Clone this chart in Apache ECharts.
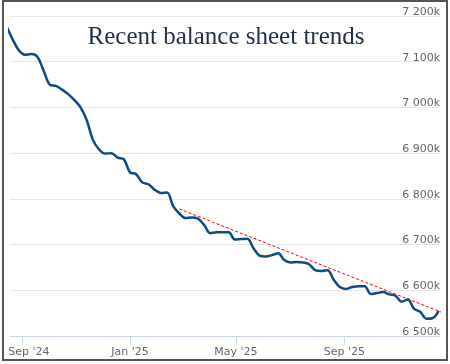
<!DOCTYPE html>
<html>
<head>
<meta charset="utf-8">
<script src="https://cdn.jsdelivr.net/npm/echarts@6/dist/echarts.min.js"></script>
<style>
html,body{margin:0;padding:0;background:#fff;}
#c{width:450px;height:364px;}
</style>
</head>
<body>
<div id="c"></div>
<script>
// Weekly dates (Wednesdays)
var dates = [
'2024-08-14','2024-08-21','2024-08-28','2024-09-04','2024-09-11','2024-09-18','2024-09-25',
'2024-10-02','2024-10-09','2024-10-16','2024-10-23','2024-10-30','2024-11-06','2024-11-13',
'2024-11-20','2024-11-27','2024-12-04','2024-12-11','2024-12-18','2024-12-25','2025-01-01',
'2025-01-08','2025-01-15','2025-01-22','2025-01-29','2025-02-05','2025-02-12','2025-02-19',
'2025-02-26','2025-03-05','2025-03-12','2025-03-19','2025-03-26','2025-04-02','2025-04-09',
'2025-04-16','2025-04-23','2025-04-30','2025-05-07','2025-05-14','2025-05-21','2025-05-28',
'2025-06-04','2025-06-11','2025-06-18','2025-06-25','2025-07-02','2025-07-09','2025-07-16',
'2025-07-23','2025-07-30','2025-08-06','2025-08-13','2025-08-20','2025-08-27','2025-09-03',
'2025-09-10','2025-09-17','2025-09-24','2025-10-01','2025-10-08','2025-10-15','2025-10-22',
'2025-10-29','2025-11-05','2025-11-12','2025-11-19','2025-11-26','2025-12-03','2025-12-10',
'2025-12-17'
];
// Balance sheet total (in k units shown on axis)
var balance = [
7178,7149,7125,7115,7117,7111,7081,
7050,7047,7039,7029,7016,7000,6972,
6929,6908,6899,6900,6890,6887,6858,
6854,6836,6832,6820,6813,6814,6784,
6768,6758,6759,6757,6743,6725,6727,
6727,6727,6711,6712,6713,6692,6676,
6674,6677,6681,6666,6661,6662,6661,
6657,6644,6642,6644,6623,6607,6603,
6607,6609,6609,6592,6594,6596,6591,
6588,6575,6580,6560,6553,6538,6539,
6555
];
// Trend line
var trendDates = ['2025-02-26','2025-12-28'];
var trendValues = [6778, 6546];
// Axis
var xTickDates = ['2024-09-01','2025-01-01','2025-05-01','2025-09-01'];
var yTicks = [6500,6600,6700,6800,6900,7000,7100,7200];
var xMin = '2024-08-18T00:00:00Z';
var xMax = '2025-12-18T12:00:00Z';

var months = ['Jan','Feb','Mar','Apr','May','Jun','Jul','Aug','Sep','Oct','Nov','Dec'];
function ts(s){ return Date.parse(s.length === 10 ? s + 'T00:00:00Z' : s); }
function fmtDate(v){
  var d = new Date(v);
  return months[d.getUTCMonth()] + " '" + String(d.getUTCFullYear()).slice(2);
}
function fmtVal(v){
  var t = Math.floor(v/1000), r = v % 1000;
  return t + ' ' + String(r).padStart(3,'0') + 'k';
}

var mainData = dates.map(function(d,i){ return [ts(d), balance[i]]; });
var trendData = trendDates.map(function(d,i){ return [ts(d), trendValues[i]]; });
var tickTs = xTickDates.map(ts);

var chart = echarts.init(document.getElementById('c'), null, {renderer:'canvas'});
chart.setOption({
  animation: false,
  backgroundColor: '#ffffff',
  grid: {left: 10, right: 10, top: 16, bottom: 28, containLabel: false},
  xAxis: {
    type: 'value',
    min: ts(xMin),
    max: ts(xMax),
    axisLine: {show: true, lineStyle: {color: '#ccd6eb', width: 1}},
    axisTick: {show: true, length: 9, lineStyle: {color: '#ccd6eb'}, customValues: tickTs},
    axisLabel: {
      customValues: tickTs,
      formatter: function(v){
        var s = fmtDate(v);
        return v === tickTs[0] ? '{first|' + s + '}' : s;
      },
      rich: {
        first: {padding: [0,0,0,13], color: '#666666', fontFamily: 'DejaVu Sans', fontSize: 11}
      },
      color: '#666666', fontFamily: 'DejaVu Sans', fontSize: 11, margin: 11
    },
    splitLine: {show: false}
  },
  yAxis: {
    type: 'value',
    position: 'right',
    min: yTicks[0],
    max: yTicks[yTicks.length-1],
    interval: 100,
    axisLine: {show: false},
    axisTick: {show: false},
    axisLabel: {
      inside: true, margin: 0,
      verticalAlign: 'bottom', lineHeight: 8,
      formatter: function(v){ return fmtVal(v); },
      color: '#666666', fontFamily: 'DejaVu Sans', fontSize: 11
    },
    splitLine: {show: true, lineStyle: {color: '#e6e6e6', width: 1}}
  },
  series: [
    {
      type: 'line',
      data: mainData,
      smooth: 0.35,
      showSymbol: false,
      symbol: 'none',
      clip: true,
      lineStyle: {color: '#0d4b83', width: 2.5},
      z: 3
    },
    {
      type: 'line',
      data: trendData,
      showSymbol: false,
      symbol: 'none',
      clip: false,
      lineStyle: {color: '#ff0000', width: 1, type: [3,2]},
      z: 4
    }
  ],
  graphic: [
    {
      type: 'text',
      style: {
        text: 'Recent balance sheet trends',
        x: 226, y: 37,
        align: 'center', verticalAlign: 'middle',
        fontFamily: '"Liberation Serif", serif', fontSize: 25,
        fill: '#1e2f4f'
      },
      z: 10
    },
    {
      type: 'rect',
      shape: {x: 3, y: 1, width: 444, height: 359},
      style: {fill: 'none', stroke: '#555555', lineWidth: 2},
      silent: true,
      z: 10
    }
  ]
});
</script>
</body>
</html>
